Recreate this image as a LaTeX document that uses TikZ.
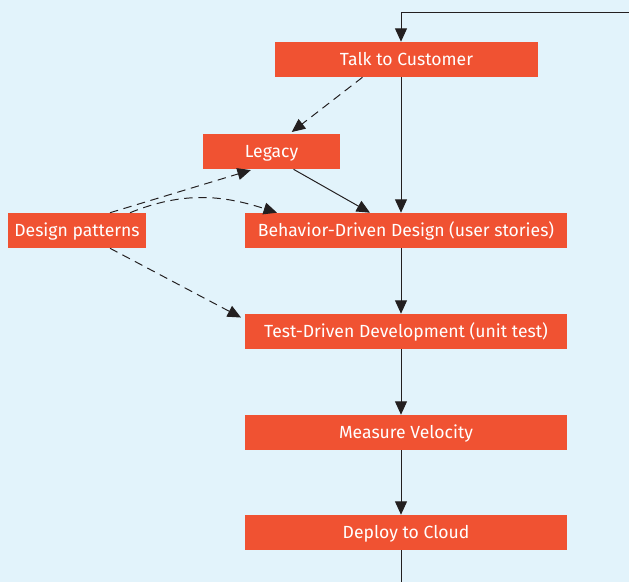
\documentclass[tikz,border=0pt]{standalone}
\usepackage{fontspec}
\setmainfont{Fira Sans}
\usetikzlibrary{arrows.meta,calc}
\definecolor{skyback}{HTML}{E2F3FB}
\definecolor{boxred}{HTML}{F05232}
\definecolor{inkline}{HTML}{231F20}
\tikzset{
  box/.style={fill=boxred, text=white, inner sep=0pt, minimum height=35*0.025cm,
    text height=8.6pt, text depth=0pt, font=\fontsize{12.5}{14}\selectfont},
  flow/.style={line width=0.7pt, draw=inkline, -{Triangle[length=9.5pt,width=8.5pt]}},
  hint/.style={flow, dash pattern=on 6pt off 4pt}
}
\begin{document}
\begin{tikzpicture}[x=0.025cm,y=-0.025cm]
%%% background and frame of the picture
\fill[skyback] (0,0) rectangle (629,582);
\useasboundingbox (0,0) rectangle (629,582);
%%% the nodes of the process
\node[box, minimum width=263*0.025cm] (talk) at (406.5,59.5) {Talk to Customer};
\node[box, minimum width=137*0.025cm] (legacy) at (271.5,151.5) {Legacy};
\node[box, minimum width=138*0.025cm] (patterns) at (77,230.5) {Design patterns};
\node[box, minimum width=322*0.025cm] (bdd) at (406,230.5) {Behavior-Driven Design (user stories)};
\node[box, minimum width=322*0.025cm] (tdd) at (406,331.5) {Test-Driven Development (unit test)};
\node[box, minimum width=322*0.025cm] (velocity) at (406,432.5) {Measure Velocity};
\node[box, minimum width=322*0.025cm] (deploy) at (406,532.5) {Deploy to Cloud};
% the main column and the loop ends
\coordinate (spine) at (401,0);
\coordinate (loopin) at (629,12);
\coordinate (loopout) at (401,582);
%%% the main flow
\draw[flow] (loopin) -- (loopin -| spine) -- (talk.north -| spine);
\draw[flow] (talk.south -| spine) -- (bdd.north -| spine);
\draw[flow] (bdd.south -| spine) -- (tdd.north -| spine);
\draw[flow] (tdd.south -| spine) -- (velocity.north -| spine);
\draw[flow] (velocity.south -| spine) -- (deploy.north -| spine);
\draw[line width=0.7pt, draw=inkline] (deploy.south -| spine) -- (loopout);
\draw[flow] ($(legacy.south)+(22,0)$) -- ($(bdd.north)+(-36,0)$);
%%% the dashed hints
\draw[hint, shorten >=2pt] ($(talk.south)+(-44,0)$) -- ($(legacy.north)+(18,0)$);
\draw[hint, shorten >=2pt] ($(patterns.north)+(33,0)$) -- ($(legacy.south)+(-18,0)$);
\draw[hint] ($(patterns.north)+(53,0)$) to[out=22,in=162] ($(bdd.north)+(-129,0)$);
\draw[hint, shorten >=3pt] ($(patterns.south)+(33,0)$) -- ($(tdd.west)+(0,-12)$);
\end{tikzpicture}
\end{document}
